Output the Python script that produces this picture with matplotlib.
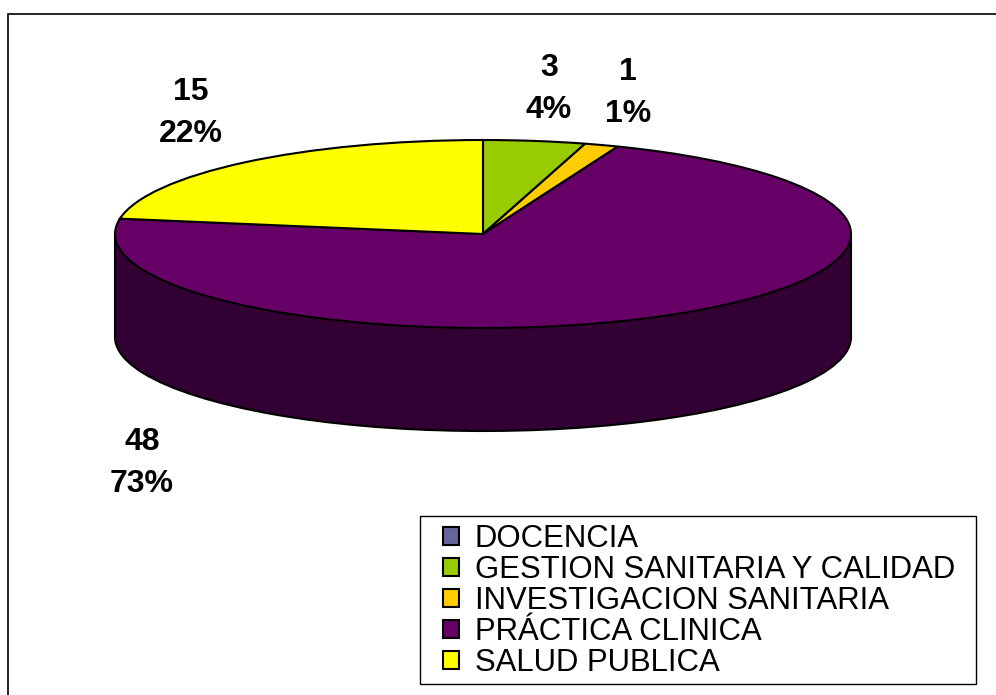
import matplotlib
matplotlib.use("Agg")
import matplotlib.pyplot as plt
from matplotlib.patches import Rectangle

categorias = ["DOCENCIA", "GESTION SANITARIA Y CALIDAD", "INVESTIGACION SANITARIA", "PRÁCTICA CLINICA", "SALUD PUBLICA"]
valores = [0, 3, 1, 48, 15]
porcentajes = [0, 4, 1, 73, 22]
colores = ["#666699", "#99CC00", "#FFCC00", "#660066", "#FFFF00"]
colores_lado = ["#333333", "#4D6600", "#806600", "#330033", "#808000"]

W, H = 996, 695
CX, CY = 483, 234
RX, RY = 368, 94
DEPTH = 103

plt.rcParams["font.family"] = ["Liberation Sans", "DejaVu Sans"]

fig = plt.figure(figsize=(W / 100, H / 100), dpi=100)
ax = fig.add_axes([0, 0, 1, 1])

prof = DEPTH / RY
# base of the cylinder, then the wall, then the top
ax.pie(valores, colors=colores_lado, startangle=90, counterclock=False, center=(0, -prof),
       wedgeprops=dict(edgecolor="black", linewidth=1.5))
ax.add_patch(Rectangle((-1, -prof - 0.03), 2, prof + 0.03, facecolor="#330033", edgecolor="none", zorder=1.5))
ax.plot([-1, -1], [-prof, 0], color="black", lw=1.5, zorder=1.6)
ax.plot([1, 1], [-prof, 0], color="black", lw=1.5, zorder=1.6)
wedges, _ = ax.pie(valores, colors=colores, startangle=90, counterclock=False,
                   wedgeprops=dict(edgecolor="black", linewidth=1.5, zorder=2))

ax.set_aspect("auto")
ax.set_xlim(-CX / RX, (W - CX) / RX)
ax.set_ylim((CY - H) / RY, CY / RY)
ax.axis("off")

# data labels, placed by hand like in the original
pos_etiquetas = {1: (549, 89), 2: (628, 93), 3: (142, 463), 4: (191, 113)}
for i, (px, py) in pos_etiquetas.items():
    fig.text(px / W, 1 - py / H, f"{valores[i]}\n{porcentajes[i]}%", ha="center", va="center",
             fontsize=23, fontweight="bold", linespacing=1.55)

# chart frame runs off the right and bottom of the picture
fig.add_artist(Rectangle((8 / W, 1 - 760 / H), 1100 / W, 746 / H, fill=False, edgecolor="black",
                         lw=1.2, transform=fig.transFigure))

# legend box
fig.add_artist(Rectangle((420 / W, 1 - 684 / H), 556 / W, 168 / H, facecolor="white", edgecolor="black",
                         lw=1, transform=fig.transFigure))
leg = fig.legend(wedges, categorias, loc="lower left", bbox_to_anchor=(443 / W, 1 - 678 / H),
                 fontsize=22.4, frameon=False, borderaxespad=0, handlelength=0.5, handleheight=0.5,
                 handletextpad=0.52, labelspacing=0.03, borderpad=0)

fig.savefig("out.png", dpi=100)
